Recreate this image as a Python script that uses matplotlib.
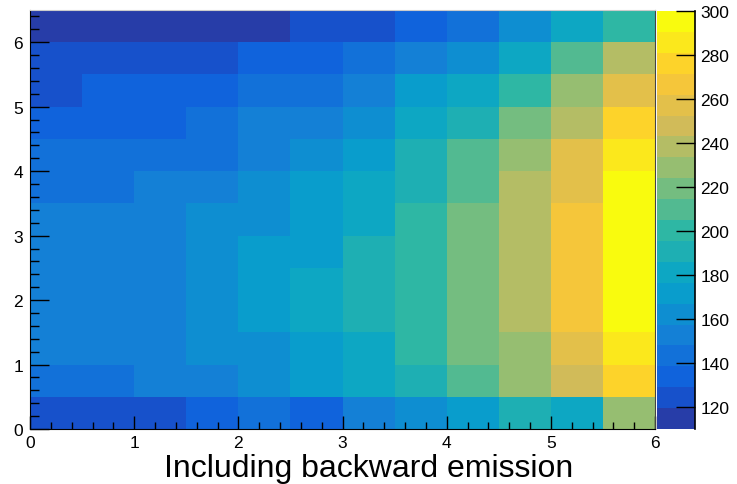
import numpy as np
import matplotlib
matplotlib.use("Agg")
from matplotlib import pyplot as plt
from matplotlib.colors import LinearSegmentedColormap, ListedColormap, BoundaryNorm
from matplotlib.ticker import MultipleLocator

plt.rcParams['font.family'] = ['Liberation Sans', 'DejaVu Sans']

# bin edges
x_edges = np.arange(0, 6.01, 0.5)
y_edges = np.arange(0, 6.51, 0.5)

# bin contents, one list per y bin (bottom to top), x from 0 to 6
row_00 = [124, 124, 124, 134, 143, 134, 153, 162, 172, 191, 181, 229]
row_05 = [143, 143, 153, 153, 162, 172, 181, 191, 210, 229, 248, 276]
row_10 = [153, 153, 153, 162, 162, 172, 181, 200, 219, 229, 257, 286]
row_15 = [153, 153, 153, 162, 172, 181, 191, 200, 219, 238, 267, 295]
row_20 = [153, 153, 153, 162, 172, 181, 191, 200, 219, 238, 267, 295]
row_25 = [153, 153, 153, 162, 172, 172, 191, 200, 219, 238, 267, 295]
row_30 = [153, 153, 153, 162, 162, 172, 181, 200, 219, 238, 267, 295]
row_35 = [143, 143, 153, 153, 162, 172, 181, 191, 210, 238, 257, 300]
row_40 = [143, 143, 143, 143, 153, 162, 172, 191, 210, 229, 257, 286]
row_45 = [134, 134, 134, 143, 153, 153, 162, 181, 191, 219, 238, 276]
row_50 = [124, 134, 134, 134, 143, 143, 153, 172, 181, 200, 229, 257]
row_55 = [124, 124, 124, 124, 134, 134, 143, 153, 162, 181, 210, 238]
row_60 = [110, 115, 115, 115, 115, 124, 124, 134, 143, 162, 181, 200]

z_min, z_max = 110, 300
n_contours = 20
cbar_ticks = np.arange(120, 301, 20)

z = np.array([row_00, row_05, row_10, row_15, row_20, row_25, row_30,
              row_35, row_40, row_45, row_50, row_55, row_60], dtype=float)

# ROOT kBird palette
stops = [0.0, 0.125, 0.25, 0.375, 0.5, 0.625, 0.75, 0.875, 1.0]
red = [0.2082, 0.0592, 0.0780, 0.0232, 0.1802, 0.5301, 0.8186, 0.9956, 0.9764]
green = [0.1664, 0.3599, 0.5041, 0.6419, 0.7178, 0.7492, 0.7328, 0.7862, 0.9832]
blue = [0.5293, 0.8684, 0.8385, 0.7914, 0.6425, 0.4662, 0.3499, 0.1968, 0.0539]
bird = LinearSegmentedColormap.from_list(
    'bird', list(zip(stops, zip(red, green, blue))), N=255)
idx = [int((i + 0.99) * 255 / n_contours) for i in range(n_contours)]
cmap = ListedColormap([bird(k / 254) for k in idx])
levels = np.linspace(z_min, z_max, n_contours + 1)
norm = BoundaryNorm(levels, cmap.N, clip=True)

fig = plt.figure(figsize=(7.37, 4.85), dpi=100)
ax = fig.add_axes([30/737, 1-430/485, 625/737, 419/485])
mesh = ax.pcolormesh(x_edges, y_edges, z, cmap=cmap, norm=norm)

ax.set_xlim(0, 6)
ax.set_ylim(0, 6.5)
ax.xaxis.set_major_locator(MultipleLocator(1))
ax.xaxis.set_minor_locator(MultipleLocator(0.2))
ax.yaxis.set_major_locator(MultipleLocator(1))
ax.yaxis.set_minor_locator(MultipleLocator(0.2))
ax.tick_params(axis='both', which='both', direction='in', top=False, right=False,
               labelsize=12.5, width=1, color='k')
ax.tick_params(axis='x', which='major', length=9.5, pad=4)
ax.tick_params(axis='x', which='minor', length=5)
ax.tick_params(axis='y', which='major', length=13.5, pad=5)
ax.tick_params(axis='y', which='minor', length=6.8)
for s in ['left', 'bottom']:
    ax.spines[s].set_color('k')
ax.spines['right'].set_color('#444444')
ax.spines['top'].set_color('#cccccc')

fig.text(0.5, 1-477/485, 'Including backward emission', ha='center',
         va='baseline', fontsize=23)

cax = fig.add_axes([657/737, 1-430/485, 38/737, 418/485])
cbar = fig.colorbar(mesh, cax=cax, ticks=cbar_ticks)
cbar.outline.set_visible(False)
cax.tick_params(direction='in', length=13.5, width=1, labelsize=12.5, pad=4)
cax.minorticks_off()
cax.plot([1, 1], [0, 1], transform=cax.transAxes, color='k', lw=1.2, clip_on=False)

fig.savefig('out.png', dpi=100)
